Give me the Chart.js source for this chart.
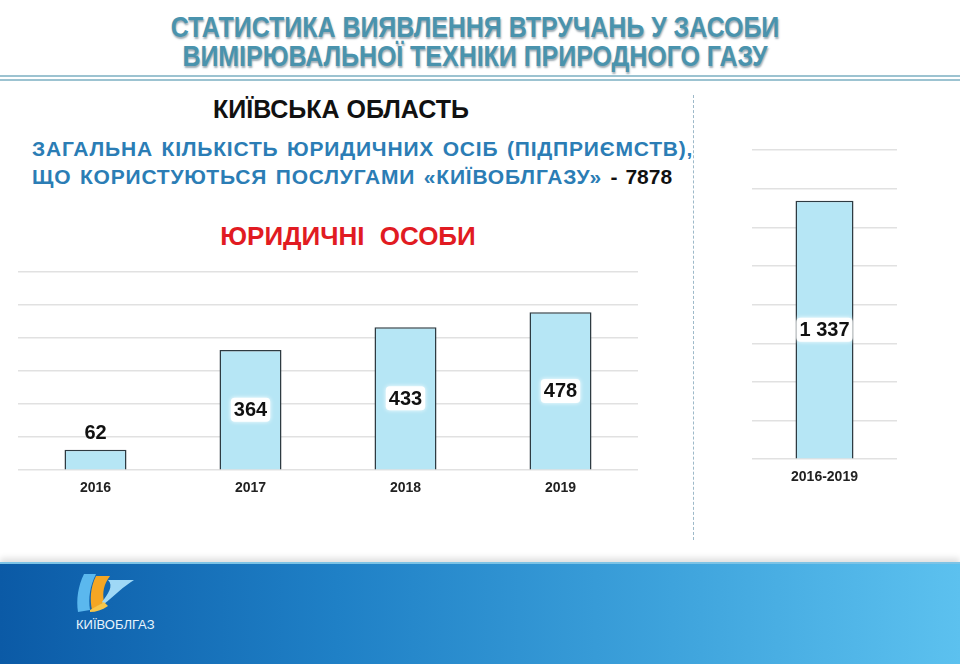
<!DOCTYPE html>
<html>
<head>
<meta charset="utf-8">
<script src="https://cdn.jsdelivr.net/npm/chart.js@4/dist/chart.umd.min.js"></script>
<style>
  body { margin: 0; background: #fff; }
  #page { position: relative; width: 960px; height: 664px; overflow: hidden; background: #fff; font-family: 'Liberation Sans', Arial, sans-serif; }
  .title { position: absolute; left: 0; width: 950px; text-align: center; font-weight: bold; font-size: 29px; color: #4a93ad; text-shadow: 1px 2px 2px rgba(40,70,90,0.45); transform: scaleX(0.86); transform-origin: 475px 0; }
  .rule { position: absolute; left: 0; width: 960px; height: 2px; background: #9cc3d1; }
  .region { position: absolute; left: 213px; top: 95px; width: 256px; text-align: center; font-weight: bold; font-size: 25px; color: #111; }
  .blue { position: absolute; left: 32px; font-weight: bold; font-size: 21px; color: #2b7db5; letter-spacing: 0.8px; word-spacing: 2px; white-space: nowrap; }
  .blue b { color: #111; letter-spacing: 0; }
  .red { position: absolute; left: 200px; width: 296px; top: 221px; text-align: center; font-weight: bold; font-size: 26px; color: #e11b22; word-spacing: 8px; }
  .divider { position: absolute; left: 693px; top: 95px; height: 445px; border-left: 1px dashed #9db9c9; }
  .chart { position: absolute; }
  #banner { position: absolute; left: 0; top: 562px; width: 960px; height: 102px; background: linear-gradient(90deg, #0b5aa6 0%, #1f80c6 35%, #3ea3dc 70%, #5cc1ef 100%); border-top: 2px solid #7cc3e6; box-shadow: 0 -4px 6px rgba(0,0,0,0.12); }
  #logoText { position: absolute; left: 76px; top: 53px; font-size: 13px; color: #e8f4fc; }
</style>
</head>
<body>
<div id="page">
  <div class="title" style="top:11px">СТАТИСТИКА ВИЯВЛЕННЯ ВТРУЧАНЬ У ЗАСОБИ</div>
  <div class="title" style="top:40px">ВИМІРЮВАЛЬНОЇ ТЕХНІКИ ПРИРОДНОГО ГАЗУ</div>
  <div class="rule" style="top:75px"></div>
  <div class="rule" style="top:79px"></div>
  <div class="region">КИЇВСЬКА ОБЛАСТЬ</div>
  <div class="blue" style="top:137px">ЗАГАЛЬНА КІЛЬКІСТЬ ЮРИДИЧНИХ ОСІБ (ПІДПРИЄМСТВ),</div>
  <div class="blue" style="top:165px">ЩО КОРИСТУЮТЬСЯ ПОСЛУГАМИ «КИЇВОБЛГАЗУ» <b>- 7878</b></div>
  <div class="red">ЮРИДИЧНІ ОСОБИ</div>
  <div class="divider"></div>
  <div class="chart" style="left:18px; top:262px; width:620px; height:245px;"><canvas id="yearChart"></canvas></div>
  <div class="chart" style="left:752px; top:140px; width:145px; height:356px;"><canvas id="totalChart"></canvas></div>
  <div id="banner">
    <svg style="position:absolute; left:74px; top:8px" width="62" height="42" viewBox="0 0 62 42">
      <path d="M10 2 C4 14 2 28 4 40 L16 38 C14 26 16 14 22 2 Z" fill="#5bb8ee"/>
      <path d="M22 4 C16 16 16 28 18 38 L30 30 C28 20 30 12 36 4 Z" fill="#f5a623"/>
      <path d="M34 8 L60 8 C50 14 40 24 30 32 L28 30 C34 22 40 14 34 8 Z" fill="#9fd8f6"/>
      <path d="M16 38 L30 30 L34 34 C28 38 22 40 16 40 Z" fill="#f7c64a"/>
    </svg>
    <div id="logoText">КИЇВОБЛГАЗ</div>
  </div>
</div>
<script>
const yearLabels = ['2016', '2017', '2018', '2019'];
const yearValues = [62, 364, 433, 478];
const totalLabels = ['2016-2019'];
const totalValues = [1337];

const barFill = '#b6e6f5';
const barEdge = '#2e3b42';
const gridColor = '#e1e1e1';

// value labels in a white box, inside the bar or above it when the bar is short
const valueBoxes = {
  id: 'valueBoxes',
  afterDatasetsDraw(chart) {
    const ctx = chart.ctx;
    const meta = chart.getDatasetMeta(0);
    const values = chart.data.datasets[0].data;
    ctx.save();
    ctx.font = 'bold 20px "Liberation Sans", Arial, sans-serif';
    ctx.textAlign = 'center';
    ctx.textBaseline = 'middle';
    meta.data.forEach(function (bar, i) {
      const text = values[i].toLocaleString('uk-UA').replace(/\s/g, ' ');
      const h = bar.base - bar.y;
      let y = (bar.y + bar.base) / 2;
      if (h < 40) y = bar.y - 17;
      const w = ctx.measureText(text).width + 6;
      if (h >= 40) {
        ctx.fillStyle = 'rgba(255,255,255,0.95)';
        ctx.shadowColor = 'rgba(255,255,255,1)';
        ctx.shadowBlur = 4;
        ctx.beginPath();
        ctx.roundRect(bar.x - w / 2, y - 12, w, 24, 4);
        ctx.fill();
        ctx.shadowBlur = 0;
      }
      ctx.fillStyle = '#111';
      ctx.fillText(text, bar.x, y + 1);
    });
    ctx.restore();
  }
};

function makeOptions(maxY, step) {
  return {
    responsive: true,
    maintainAspectRatio: false,
    animation: false,
    layout: { padding: { top: 10, left: 0, right: 0, bottom: 0 } },
    plugins: { legend: { display: false }, tooltip: { enabled: false } },
    scales: {
      x: {
        grid: { display: false, drawTicks: false },
        border: { display: false },
        ticks: { color: '#222', padding: 10, font: { family: '"Liberation Sans", Arial, sans-serif', size: 14, weight: 'bold' } }
      },
      y: {
        min: 0,
        max: maxY,
        ticks: { display: false, stepSize: step },
        grid: { color: gridColor, lineWidth: 1.5, drawTicks: false },
        border: { display: false }
      }
    }
  };
}

new Chart(document.getElementById('yearChart'), {
  type: 'bar',
  data: {
    labels: yearLabels,
    datasets: [{
      data: yearValues,
      backgroundColor: barFill,
      borderColor: barEdge,
      borderWidth: 1.5,
      categoryPercentage: 1,
      barPercentage: 0.4
    }]
  },
  options: makeOptions(600, 100),
  plugins: [valueBoxes]
});

new Chart(document.getElementById('totalChart'), {
  type: 'bar',
  data: {
    labels: totalLabels,
    datasets: [{
      data: totalValues,
      backgroundColor: barFill,
      borderColor: barEdge,
      borderWidth: 1.5,
      categoryPercentage: 1,
      barPercentage: 0.4
    }]
  },
  options: makeOptions(1600, 200),
  plugins: [valueBoxes]
});
</script>
</body>
</html>
